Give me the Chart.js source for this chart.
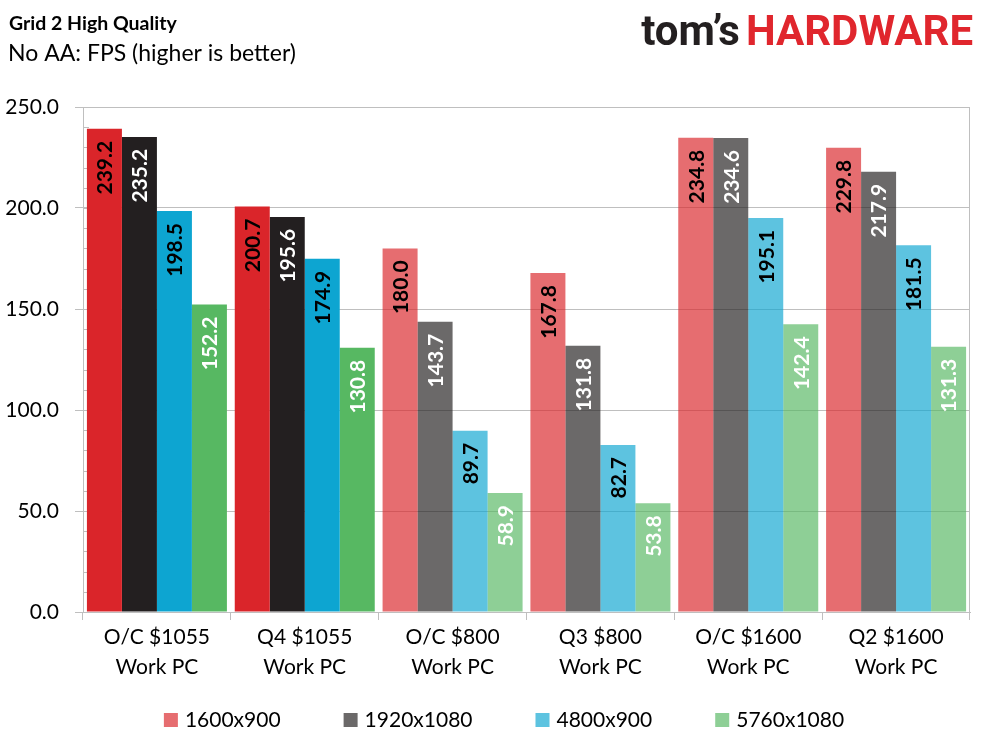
<!DOCTYPE html>
<html>
<head>
<meta charset="utf-8">
<script src="https://cdn.jsdelivr.net/npm/chart.js"></script>
<style>
  body { margin: 0; background: #fff; }
  #wrap { position: relative; width: 989px; height: 742px; }
</style>
</head>
<body>
<div id="wrap"><canvas id="chart" width="989" height="742"></canvas></div>
<script>
const titleText = 'Grid 2 High Quality';
const subtitleText = 'No AA: FPS (higher is better)';
const categories = [
  ['O/C $1055', 'Work PC'],
  ['Q4 $1055', 'Work PC'],
  ['O/C $800', 'Work PC'],
  ['Q3 $800', 'Work PC'],
  ['O/C $1600', 'Work PC'],
  ['Q2 $1600', 'Work PC']
];
const seriesNames = ['1600x900', '1920x1080', '4800x900', '5760x1080'];
const fps1600x900 = [239.2, 200.7, 180.0, 167.8, 234.8, 229.8];
const fps1920x1080 = [235.2, 195.6, 143.7, 131.8, 234.6, 217.9];
const fps4800x900 = [198.5, 174.9, 89.7, 82.7, 195.1, 181.5];
const fps5760x1080 = [152.2, 130.8, 58.9, 53.8, 142.4, 131.3];
const yTicks = [0, 50, 100, 150, 200, 250];

// the two $1055 systems are drawn in full colour, the rest faded
const fullColour = [true, true, false, false, false, false];
const baseColours = [[218, 37, 42], [35, 31, 32], [13, 165, 209], [87, 184, 98]];
const labelColours = ['#000', '#fff', '#000', '#fff'];

const rgba = (c, a) => `rgba(${c[0]}, ${c[1]}, ${c[2]}, ${a})`;
const FONT = 'Lato, "Open Sans", sans-serif';

const allSeries = [fps1600x900, fps1920x1080, fps4800x900, fps5760x1080];

const datasets = allSeries.map((values, i) => ({
  label: seriesNames[i],
  data: values,
  backgroundColor: fullColour.map(f => rgba(baseColours[i], f ? 1 : 0.67)),
  legendColour: rgba(baseColours[i], 0.67),
  labelColour: labelColours[i],
  borderWidth: 0,
  barPercentage: 1,
  categoryPercentage: 0.947
}));

const decorations = {
  id: 'decorations',
  beforeDatasetsDraw(chart) {
    const { ctx, chartArea: a, scales: { y } } = chart;
    ctx.save();
    ctx.strokeStyle = '#BFBFBF';
    ctx.lineWidth = 1;
    // plot frame top and right
    ctx.beginPath();
    ctx.moveTo(a.left, a.top + 0.5);
    ctx.lineTo(a.right - 0.5, a.top + 0.5);
    ctx.lineTo(a.right - 0.5, a.bottom);
    ctx.stroke();
    // minor ticks inside the y axis
    ctx.beginPath();
    for (let v = y.min; v <= y.max; v += 10) {
      const py = Math.round(y.getPixelForValue(v)) + 0.5;
      ctx.moveTo(a.left, py);
      ctx.lineTo(a.left + 6, py);
    }
    ctx.stroke();
    ctx.restore();
  },
  afterDatasetsDraw(chart) {
    const { ctx } = chart;
    ctx.save();
    ctx.font = `bold 21px ${FONT}`;
    ctx.textAlign = 'right';
    ctx.textBaseline = 'middle';
    chart.data.datasets.forEach((ds, i) => {
      chart.getDatasetMeta(i).data.forEach((bar, j) => {
        ctx.save();
        ctx.translate(bar.x, bar.y + 12);
        ctx.rotate(-Math.PI / 2);
        ctx.fillStyle = ds.labelColour;
        ctx.fillText(ds.data[j].toFixed(1), 0, 1);
        ctx.restore();
      });
    });
    ctx.restore();
  },
  afterDraw(chart) {
    const { ctx } = chart;
    ctx.save();
    ctx.textBaseline = 'alphabetic';
    ctx.fillStyle = '#000';
    ctx.font = `bold 19.5px ${FONT}`;
    ctx.fillText(titleText, 9, 30);
    ctx.font = `23px ${FONT}`;
    ctx.fillText(subtitleText, 8, 61);

    // logo
    ctx.font = 'bold 42px Roboto, sans-serif';
    ctx.textAlign = 'right';
    ctx.fillStyle = '#E0262D';
    ctx.fillText('HARDWARE', 973, 45);
    const hw = ctx.measureText('HARDWARE').width;
    ctx.fillStyle = '#231F20';
    ctx.fillText('tom\u2019s', 973 - hw - 6, 45);

    // legend
    ctx.textAlign = 'left';
    ctx.textBaseline = 'middle';
    ctx.font = `21px ${FONT}`;
    const box = 14, gapText = 7, gapItem = 63;
    const items = chart.data.datasets.map(ds => ({
      text: ds.label, colour: ds.legendColour, w: box + gapText + ctx.measureText(ds.label).width
    }));
    const total = items.reduce((s, it) => s + it.w, 0) + gapItem * (items.length - 1);
    let x = 504 - total / 2;
    const cy = 720;
    items.forEach(it => {
      ctx.fillStyle = it.colour;
      ctx.fillRect(x, cy - box / 2, box, box);
      ctx.fillStyle = '#000';
      ctx.fillText(it.text, x + box + gapText, cy);
      x += it.w + gapItem;
    });
    ctx.restore();
  }
};

new Chart(document.getElementById('chart'), {
  type: 'bar',
  data: { labels: categories, datasets },
  plugins: [decorations],
  options: {
    responsive: false,
    animation: false,
    layout: { padding: { top: 107, right: 19, bottom: 0, left: 0 } },
    plugins: { legend: { display: false }, tooltip: { enabled: false } },
    scales: {
      x: {
        grid: { drawOnChartArea: false, color: '#BFBFBF', tickLength: 8 },
        border: { color: '#BFBFBF' },
        ticks: { color: '#000', font: { family: FONT, size: 21, lineHeight: 1.4 }, padding: 3, maxRotation: 0 },
        afterFit(scale) { scale.height = 130; }
      },
      y: {
        min: 0,
        max: 250,
        afterBuildTicks(scale) { scale.ticks = yTicks.map(v => ({ value: v })); },
        grid: { color: '#BFBFBF', tickLength: 8 },
        border: { color: '#BFBFBF' },
        ticks: {
          color: '#000',
          font: { family: FONT, size: 21 },
          padding: 16,
          callback: v => Number(v).toFixed(1)
        },
        afterFit(scale) { scale.width = 83; }
      }
    }
  }
});
</script>
</body>
</html>
